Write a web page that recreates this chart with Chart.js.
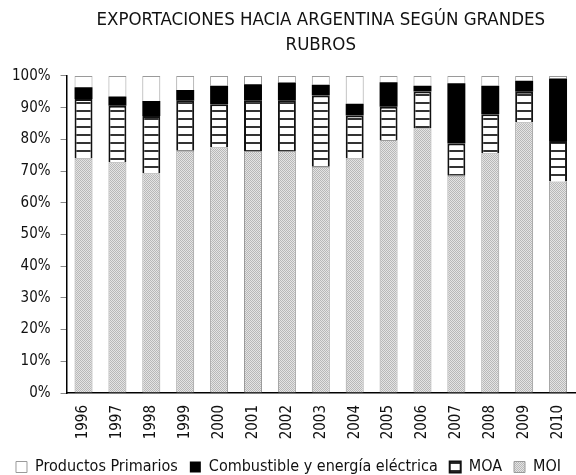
<!DOCTYPE html>
<html>
<head>
<meta charset="utf-8">
<script src="https://cdn.jsdelivr.net/npm/chart.js@4"></script>
<style>
  body { margin: 0; background: #fff; }
  #wrap { width: 576px; height: 475px; }
</style>
</head>
<body>
<div id="wrap"><canvas id="chart" width="576" height="475"></canvas></div>
<script>
const years = ['1996','1997','1998','1999','2000','2001','2002','2003','2004','2005','2006','2007','2008','2009','2010'];
const moi = [74.0, 72.8, 69.3, 76.4, 77.5, 76.3, 76.3, 71.4, 74.0, 79.8, 83.5, 68.5, 75.6, 85.4, 66.7];
const moa = [18.7, 17.8, 18.1, 15.8, 13.6, 15.9, 15.9, 22.4, 13.5, 10.5, 11.6, 10.2, 12.3, 9.6, 12.8];
const combustible = [3.7, 2.9, 4.7, 3.4, 5.8, 5.2, 5.7, 3.4, 3.7, 7.7, 1.8, 19.0, 9.0, 3.5, 19.7];
const primarios = [3.6, 6.5, 7.9, 4.4, 3.1, 2.6, 2.1, 2.8, 8.8, 2.0, 3.1, 2.3, 3.1, 1.5, 0.8];
const yTicks = [0,10,20,30,40,50,60,70,80,90,100];

const FONT = "'Liberation Sans Narrow', 'DejaVu Sans Condensed', 'Liberation Sans', sans-serif";

// fill patterns
function dotPattern(){
    const c = document.createElement('canvas');
    c.width = 2; c.height = 2;
    const g = c.getContext('2d');
    g.fillStyle = '#e4e4e4';
    g.fillRect(0,0,2,2);
    g.fillStyle = '#b8b8b8';
    g.fillRect(0,0,1,1);
    g.fillRect(1,1,1,1);
    return g.createPattern(c, 'repeat');
}
function stripePattern(){
    const c = document.createElement('canvas');
    c.width = 8; c.height = 8;
    const g = c.getContext('2d');
    g.fillStyle = '#ffffff';
    g.fillRect(0,0,8,8);
    g.fillStyle = '#333333';
    g.fillRect(0,6,8,2);
    return g.createPattern(c, 'repeat');
}

// legend: keep item spacing but trim the box height so it sits near the bottom edge
const tightLegend = {
    id: 'tightLegend',
    beforeLayout(chart){
        const lg = chart.legend;
        if (lg && !lg._tight) {
            lg._tight = true;
            const fit = lg.fit;
            lg.fit = function(){ fit.call(this); this.height -= 10; };
        }
    }
};

const ctx = document.getElementById('chart');

new Chart(ctx, {
    type: 'bar',
    data: {
        labels: years,
        datasets: [
            { label: 'MOI', data: moi, backgroundColor: dotPattern(), borderColor: '#9a9a9a', borderWidth: 1 },
            { label: 'MOA', data: moa, backgroundColor: stripePattern(), borderColor: '#111', borderWidth: 2 },
            { label: 'Combustible y energía eléctrica', data: combustible, backgroundColor: '#000', borderColor: '#000', borderWidth: 0 },
            { label: 'Productos Primarios', data: primarios, backgroundColor: '#fff', borderColor: '#9a9a9a', borderWidth: 1 }
        ]
    },
    plugins: [tightLegend],
    options: {
        responsive: false,
        animation: false,
        layout: { padding: { left: 2, right: 1, top: 0, bottom: 0 } },
        datasets: { bar: { barPercentage: 0.53, categoryPercentage: 1 } },
        plugins: {
            title: {
                display: true,
                fullSize: false,
                text: ['EXPORTACIONES HACIA ARGENTINA SEGÚN GRANDES', 'RUBROS'],
                color: '#111',
                font: { family: FONT, size: 18.5, weight: 'normal', lineHeight: 1.35 },
                padding: { top: 8, bottom: 18 }
            },
            legend: {
                position: 'bottom',
                reverse: true,
                labels: {
                    color: '#111',
                    font: { family: FONT, size: 16 },
                    boxWidth: 11,
                    boxHeight: 11,
                    padding: 12
                }
            },
            tooltip: { enabled: false }
        },
        scales: {
            x: {
                stacked: true,
                grid: { display: false, drawTicks: false },
                border: { color: '#000', width: 1.5 },
                ticks: {
                    color: '#111',
                    font: { family: FONT, size: 15 },
                    minRotation: 90,
                    maxRotation: 90,
                    padding: 12
                },
                afterFit: s => { s.height = 54; s.paddingRight = 0; }
            },
            y: {
                stacked: true,
                min: 0,
                max: 100,
                afterBuildTicks: axis => { axis.ticks = yTicks.map(v => ({ value: v })); },
                grid: { drawOnChartArea: false, drawTicks: true, tickLength: 6, color: '#888' },
                border: { color: '#000', width: 1.5 },
                ticks: {
                    color: '#111',
                    font: { family: FONT, size: 15 },
                    padding: 10,
                    callback: v => v + '%'
                }
            }
        }
    }
});
</script>
</body>
</html>
